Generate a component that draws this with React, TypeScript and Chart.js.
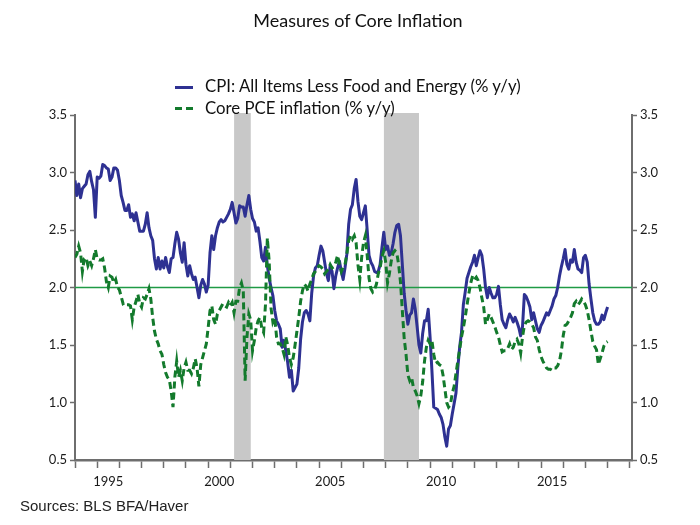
import React, { useEffect, useRef } from 'react';
import { Chart, registerables } from 'chart.js';

Chart.register(...registerables);

// Monthly data, Jan 1994 .. Jan 2018
const START_YEAR = 1994;

const cpiCore: number[] = [
  // 1994
  2.93, 2.80, 2.90, 2.78, 2.86, 2.88, 2.90, 2.98, 3.01, 2.92, 2.85, 2.61,
  // 1995
  2.96, 2.95, 2.97, 3.07, 3.06, 3.04, 3.03, 2.93, 2.96, 3.04, 3.04, 3.02,
  // 1996
  2.93, 2.80, 2.74, 2.67, 2.67, 2.72, 2.61, 2.64, 2.58, 2.65, 2.57, 2.49,
  // 1997
  2.49, 2.49, 2.55, 2.65, 2.52, 2.45, 2.41, 2.25, 2.16, 2.26, 2.16, 2.23,
  // 1998
  2.17, 2.26, 2.18, 2.13, 2.25, 2.26, 2.38, 2.48, 2.42, 2.30, 2.22, 2.39,
  // 1999
  2.20, 2.10, 2.19, 2.12, 2.07, 2.09, 2.00, 1.91, 2.02, 2.07, 2.03, 1.96,
  // 2000
  2.02, 2.30, 2.45, 2.33, 2.45, 2.52, 2.57, 2.59, 2.57, 2.58, 2.61, 2.64,
  // 2001
  2.68, 2.74, 2.65, 2.56, 2.60, 2.71, 2.70, 2.70, 2.62, 2.72, 2.80, 2.68,
  // 2002
  2.60, 2.57, 2.49, 2.52, 2.40, 2.26, 2.23, 2.35, 2.19, 2.08, 2.00, 1.93,
  // 2003
  1.80, 1.71, 1.68, 1.64, 1.48, 1.54, 1.45, 1.35, 1.22, 1.28, 1.10, 1.13,
  // 2004
  1.16, 1.30, 1.55, 1.70, 1.78, 1.80, 1.77, 1.71, 1.95, 2.10, 2.17, 2.19,
  // 2005
  2.28, 2.36, 2.32, 2.22, 2.12, 2.06, 2.19, 2.14, 1.99, 2.10, 2.17, 2.23,
  // 2006
  2.14, 2.07, 2.17, 2.29, 2.55, 2.68, 2.72, 2.86, 2.94, 2.75, 2.62, 2.59,
  // 2007
  2.65, 2.71, 2.50, 2.28, 2.22, 2.19, 2.14, 2.13, 2.14, 2.20, 2.35, 2.48,
  // 2008
  2.33, 2.36, 2.28, 2.30, 2.38, 2.48, 2.54, 2.55, 2.45, 2.20, 1.95, 1.80,
  // 2009
  1.68, 1.76, 1.78, 1.90, 1.81, 1.66, 1.50, 1.43, 1.60, 1.71, 1.71, 1.81,
  // 2010
  1.57, 1.28, 0.96, 0.95, 0.94, 0.90, 0.87, 0.81, 0.70, 0.62, 0.77, 0.80,
  // 2011
  0.90, 0.99, 1.08, 1.30, 1.48, 1.61, 1.85, 1.96, 2.08, 2.13, 2.18, 2.22,
  // 2012
  2.28, 2.19, 2.26, 2.32, 2.28, 2.16, 2.00, 1.91, 2.00, 1.95, 1.91, 1.91,
  // 2013
  1.94, 2.01, 1.85, 1.72, 1.68, 1.65, 1.72, 1.77, 1.74, 1.70, 1.74, 1.70,
  // 2014
  1.65, 1.58, 1.66, 1.94, 1.92, 1.88, 1.83, 1.72, 1.78, 1.71, 1.64, 1.61,
  // 2015
  1.67, 1.70, 1.74, 1.78, 1.76, 1.80, 1.84, 1.90, 1.93, 2.00, 2.10, 2.18,
  // 2016
  2.25, 2.33, 2.20, 2.16, 2.24, 2.22, 2.33, 2.22, 2.16, 2.15, 2.13, 2.26,
  // 2017
  2.28, 2.22, 2.03, 1.90, 1.78, 1.71, 1.68, 1.68, 1.70, 1.76, 1.72, 1.78,
  // 2018
  1.83,
];

const pceCore: number[] = [
  // 1994
  2.26, 2.29, 2.36, 2.30, 2.14, 2.25, 2.26, 2.19, 2.23, 2.19, 2.25, 2.33,
  // 1995
  2.25, 2.24, 2.24, 2.25, 2.17, 2.05, 2.00, 2.10, 2.09, 2.04, 2.07, 2.00,
  // 1996
  1.98, 1.92, 1.86, 1.87, 1.85, 1.85, 1.84, 1.72, 1.83, 1.88, 1.94, 1.86,
  // 1997
  1.83, 1.91, 1.90, 1.94, 1.99, 1.90, 1.74, 1.62, 1.55, 1.51, 1.45, 1.42,
  // 1998
  1.33, 1.26, 1.22, 1.20, 1.10, 0.96, 1.22, 1.36, 1.22, 1.28, 1.19, 1.30,
  // 1999
  1.35, 1.28, 1.28, 1.25, 1.30, 1.38, 1.30, 1.14, 1.33, 1.39, 1.45, 1.51,
  // 2000
  1.65, 1.80, 1.84, 1.72, 1.68, 1.77, 1.80, 1.83, 1.86, 1.84, 1.83, 1.87,
  // 2001
  1.84, 1.87, 1.78, 1.88, 1.88, 2.00, 2.04, 1.97, 1.19, 1.57, 1.77, 1.72,
  // 2002
  1.45, 1.54, 1.65, 1.71, 1.74, 1.65, 1.61, 1.85, 2.43, 2.23, 1.82, 1.70,
  // 2003
  1.74, 1.57, 1.51, 1.51, 1.48, 1.42, 1.57, 1.50, 1.39, 1.33, 1.39, 1.50,
  // 2004
  1.62, 1.74, 1.88, 1.97, 2.03, 2.01, 1.97, 2.03, 2.07, 2.12, 2.14, 2.17,
  // 2005
  2.19, 2.18, 2.16, 2.12, 2.14, 2.16, 2.20, 2.17, 2.18, 2.22, 2.28, 2.20,
  // 2006
  2.14, 2.18, 2.20, 2.29, 2.41, 2.45, 2.42, 2.45, 2.39, 2.20, 2.07, 2.26,
  // 2007
  2.39, 2.45, 2.28, 2.08, 1.99, 1.96, 1.98, 2.03, 2.12, 2.17, 2.27, 2.32,
  // 2008
  2.22, 2.04, 2.12, 2.23, 2.30, 2.32, 2.30, 2.20, 2.05, 1.80, 1.56, 1.42,
  // 2009
  1.24, 1.19, 1.22, 1.13, 1.10, 1.06, 0.99, 1.06, 1.18, 1.36, 1.48, 1.54,
  // 2010
  1.51, 1.54, 1.42, 1.34, 1.35, 1.33, 1.32, 1.24, 1.12, 1.00, 0.96, 0.98,
  // 2011
  1.08, 1.14, 1.25, 1.36, 1.46, 1.57, 1.65, 1.74, 1.85, 1.95, 2.04, 2.10,
  // 2012
  2.07, 2.09, 2.06, 2.00, 1.91, 1.83, 1.68, 1.72, 1.77, 1.74, 1.70, 1.66,
  // 2013
  1.61, 1.57, 1.50, 1.44, 1.45, 1.45, 1.47, 1.51, 1.46, 1.48, 1.53, 1.55,
  // 2014
  1.51, 1.43, 1.57, 1.67, 1.70, 1.71, 1.70, 1.68, 1.65, 1.57, 1.54, 1.46,
  // 2015
  1.40, 1.36, 1.33, 1.30, 1.29, 1.29, 1.28, 1.30, 1.30, 1.32, 1.36, 1.45,
  // 2016
  1.58, 1.67, 1.68, 1.71, 1.74, 1.78, 1.86, 1.88, 1.85, 1.87, 1.90, 1.88,
  // 2017
  1.85, 1.80, 1.72, 1.62, 1.53, 1.49, 1.46, 1.33, 1.38, 1.43, 1.49, 1.52,
  // 2018
  1.53,
];

const recessionStarts = [2001.17, 2007.92];
const recessionEnds = [2001.92, 2009.5];
const targetLevel = 2.0;
const xLabelYears = [1995, 2000, 2005, 2010, 2015];
const yTickValues = [0.5, 1.0, 1.5, 2.0, 2.5, 3.0, 3.5];
const X_MIN = 1994;
const X_MAX = 2019.1;

const cpiLabel = 'CPI: All Items Less Food and Energy (% y/y)';
const pceLabel = 'Core PCE inflation (% y/y)';
const titleText = 'Measures of Core Inflation';
const sourceText = 'Sources: BLS BFA/Haver';

const BLUE = '#2e3192';
const GREEN = '#137a2c';
const AXIS = '#6e6e6e';
const FONT = 'Lato, "Open Sans", sans-serif';

const toPoints = (arr: number[]) => arr.map((v, i) => ({ x: START_YEAR + i / 12, y: v }));

const recessionPlugin = {
  id: 'recessions',
  beforeDatasetsDraw(chart: any) {
    const { ctx, chartArea, scales } = chart;
    ctx.save();
    ctx.fillStyle = '#c8c8c8';
    recessionStarts.forEach((s, i) => {
      const x1 = scales.x.getPixelForValue(s);
      const x2 = scales.x.getPixelForValue(recessionEnds[i]);
      ctx.fillRect(x1, chartArea.top - 2, x2 - x1, chartArea.bottom - chartArea.top + 2);
    });
    ctx.restore();
  },
};

export default function App() {
  const ref = useRef<HTMLCanvasElement | null>(null);

  useEffect(() => {
    if (!ref.current) return;
    const tickFont = { family: FONT, size: 13 };
    const yAxis = (position: 'left' | 'right', width: number) => ({
      type: 'linear' as const,
      position,
      min: 0.5,
      max: 3.5,
      afterBuildTicks: (s: any) => {
        s.ticks = yTickValues.map((v) => ({ value: v }));
      },
      afterFit: (s: any) => {
        s.width = width;
      },
      ticks: {
        callback: (v: any) => Number(v).toFixed(1),
        font: tickFont,
        color: '#1a1a1a',
        padding: 3,
      },
      grid: {
        drawOnChartArea: false,
        drawTicks: true,
        tickLength: 5,
        tickColor: AXIS,
        tickWidth: 1.5,
      },
      border: { display: true, color: AXIS, width: 2 },
    });

    const chart = new Chart(ref.current, {
      type: 'line',
      data: {
        datasets: [
          {
            label: pceLabel,
            data: toPoints(pceCore),
            borderColor: GREEN,
            borderWidth: 3,
            borderDash: [7, 4],
            pointRadius: 0,
            tension: 0,
            yAxisID: 'y',
            order: 1,
          },
          {
            label: cpiLabel,
            data: toPoints(cpiCore),
            borderColor: BLUE,
            borderWidth: 3,
            borderJoinStyle: 'round',
            pointRadius: 0,
            tension: 0,
            yAxisID: 'y',
            order: 2,
          },
          {
            label: 'target',
            data: [
              { x: X_MIN, y: targetLevel },
              { x: X_MAX, y: targetLevel },
            ],
            borderColor: '#1f9a45',
            borderWidth: 1.5,
            pointRadius: 0,
            yAxisID: 'y',
            order: 3,
          },
        ],
      },
      options: {
        responsive: false,
        animation: false,
        events: [],
        layout: { padding: { top: 115, left: 0, right: 0, bottom: 0 } },
        plugins: {
          legend: { display: false },
          title: { display: false },
          tooltip: { enabled: false },
        },
        scales: {
          x: {
            type: 'linear',
            min: X_MIN,
            max: X_MAX,
            afterBuildTicks: (s: any) => {
              const t: number[] = [];
              for (let yr = 1994; yr <= 2019; yr++) t.push(yr);
              xLabelYears.forEach((y) => t.push(y + 0.5));
              t.sort((a, b) => a - b);
              s.ticks = t.map((v) => ({ value: v }));
            },
            afterFit: (s: any) => {
              s.height = 65;
            },
            ticks: {
              autoSkip: false,
              maxRotation: 0,
              minRotation: 0,
              font: tickFont,
              color: '#1a1a1a',
              padding: 6,
              callback: (v: any) => {
                const n = Number(v);
                return xLabelYears.includes(n - 0.5) ? String(n - 0.5) : '';
              },
            },
            grid: {
              drawOnChartArea: false,
              drawTicks: true,
              tickLength: 8,
              tickWidth: 1.5,
              tickColor: (ctx: any) =>
                ctx.tick && Number.isInteger(ctx.tick.value) ? AXIS : 'rgba(0,0,0,0)',
            },
            border: { display: true, color: AXIS, width: 2.5 },
          },
          y: yAxis('left', 75),
          y2: yAxis('right', 68),
        },
      },
      plugins: [recessionPlugin],
    });
    return () => chart.destroy();
  }, []);

  return (
    <div
      style={{
        position: 'absolute',
        left: 0,
        top: 0,
        width: 700,
        height: 525,
        background: '#ffffff',
        fontFamily: FONT,
        color: '#111',
        overflow: 'hidden',
      }}
    >
      <canvas ref={ref} width={700} height={525} style={{ position: 'absolute', left: 0, top: 0 }} />
      <div
        style={{
          position: 'absolute',
          left: 8,
          width: 700,
          top: 9,
          textAlign: 'center',
          fontSize: 18,
          lineHeight: '22px',
        }}
      >
        {titleText}
      </div>
      <div style={{ position: 'absolute', left: 175, top: 86, width: 18, height: 3, background: BLUE }} />
      <div
        style={{ position: 'absolute', left: 205, top: 76, fontSize: 16.8, lineHeight: '20px', whiteSpace: 'nowrap' }}
      >
        {cpiLabel}
      </div>
      <div style={{ position: 'absolute', left: 175, top: 107, width: 7, height: 3, background: GREEN }} />
      <div style={{ position: 'absolute', left: 186, top: 107, width: 7, height: 3, background: GREEN }} />
      <div
        style={{ position: 'absolute', left: 205, top: 98, fontSize: 16.8, lineHeight: '20px', whiteSpace: 'nowrap' }}
      >
        {pceLabel}
      </div>
      <div
        style={{
          position: 'absolute',
          left: 20,
          top: 497,
          fontSize: 15,
          lineHeight: '18px',
          fontFamily: '"Liberation Sans", Arial, sans-serif',
          color: '#222',
          whiteSpace: 'nowrap',
        }}
      >
        {sourceText}
      </div>
    </div>
  );
}
